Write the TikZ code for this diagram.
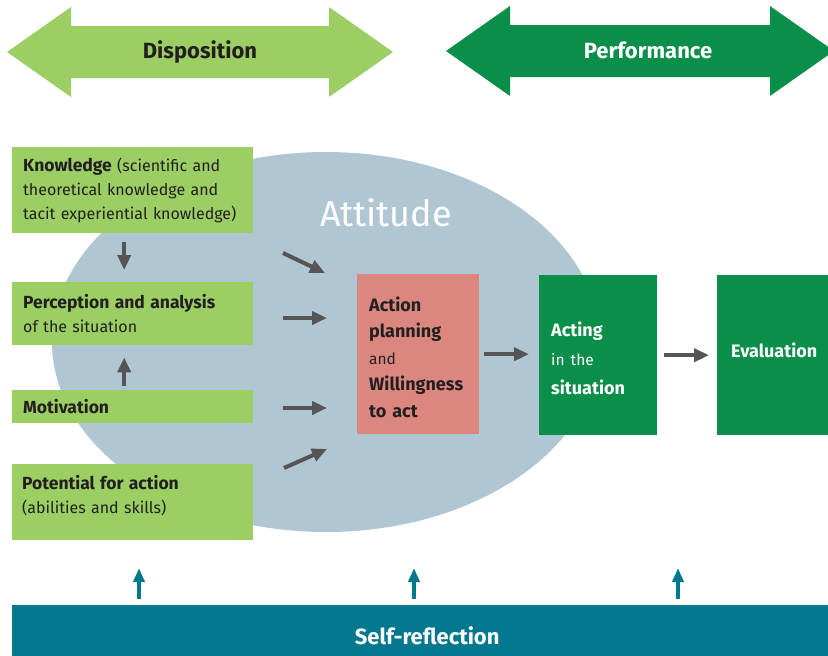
\documentclass[tikz,border=0pt]{standalone}
\usepackage{fontspec}
\setmainfont{Fira Sans}
\usepackage{xcolor}
\usetikzlibrary{arrows.meta}

\definecolor{lightgreen}{RGB}{155,206,99}
\definecolor{darkgreen}{RGB}{10,143,74}
\definecolor{attblue}{RGB}{176,199,211}
\definecolor{salmon}{RGB}{219,135,128}
\definecolor{petrol}{RGB}{1,120,142}
\definecolor{arrowgray}{RGB}{85,85,85}
\definecolor{textdark}{RGB}{35,31,32}

\newcommand{\boldpart}[1]{{\fontsize{17.5}{24}\selectfont\bfseries #1}}
\newcommand{\plainpart}[1]{{\fontsize{15.5}{27}\selectfont\mdseries #1}}

\begin{document}
\begin{tikzpicture}[x=1pt, y=-1pt,
        box/.style = {anchor=north west, inner xsep=12pt, inner ysep=0pt, align=left, text=textdark},
        leftbox/.style = {box, fill=lightgreen, inner xsep=11pt, text width=219pt, font=\fontsize{16}{24}\selectfont},
        actbox/.style = {box, fill=darkgreen, text=white, text width=94pt, minimum height=160pt,
            font=\fontsize{18}{29}\selectfont\bfseries},
        grayarrow/.style = {draw=arrowgray, line width=4pt, -{Triangle[length=15pt, width=13pt]}},
        uparrow/.style = {draw=petrol, line width=3.5pt, -{Triangle[length=14pt, width=11pt]}}
    ]
        \useasboundingbox (0,0) rectangle (828,656);
        % big double arrows
        \fill[lightgreen] (7,52) -- (71,7) -- (71,26) -- (329,26) -- (329,7) -- (393,52)
            -- (329,97) -- (329,78) -- (71,78) -- (71,97) -- cycle;
        \fill[darkgreen] (446,51) -- (510,6) -- (510,25) -- (770,25) -- (770,6) -- (834,51)
            -- (770,96) -- (770,77) -- (510,77) -- (510,96) -- cycle;
        \node[text=textdark, font=\fontsize{22}{26}\selectfont\bfseries] (disp) at (200,52) {Disposition};
        \node[text=white, font=\fontsize{22}{26}\selectfont\bfseries] (perf) at (648,50) {Performance};
        % attitude
        \fill[attblue] (326,342) ellipse [x radius=274pt, y radius=190pt];
        \node[text=white, font=\fontsize{36}{40}\selectfont] (att) at (386,213) {Attitude};
        % left column
        \node[leftbox, minimum height=86pt] (know) at (12,147)
            {\boldpart{Knowledge} (scientific and\\ theoretical knowledge and\\ tacit experiential knowledge)};
        \node[leftbox, minimum height=63pt] (perc) at (12,282)
            {\boldpart{Perception and analysis}\\ of the situation};
        \node[leftbox, minimum height=33pt] (motiv) at (12,390) {\boldpart{Motivation}};
        \node[leftbox, minimum height=76pt, inner xsep=10pt, text width=221pt] (pot) at (12,464)
            {\boldpart{Potential for action}\\ (abilities and skills)\rule[-16pt]{0pt}{16pt}};
        \draw[grayarrow, shorten <=9pt, shorten >=12pt] ([xshift=-8.5pt]know.south) -- ([xshift=-8.5pt]perc.north);
        \draw[grayarrow, shorten <=4pt, shorten >=12pt] ([xshift=-8.5pt]motiv.north) -- ([xshift=-8.5pt]perc.south);
        % action boxes
        \node[box, fill=salmon, text width=98pt, minimum height=160pt, font=\fontsize{18}{26.5}\selectfont\bfseries] (plan) at (357,274)
            {\rule{0pt}{20.5pt}Action\\ planning\\ \plainpart{and}\\ Willingness\\ to act};
        \node[actbox] (act) at (539,275)
            {\rule{0pt}{21pt}Acting\\ \plainpart{in the}\\ situation};
        \node[actbox, inner xsep=14pt, text width=95pt] (eval) at (717,275)
            {Evaluation\rule[-10pt]{0pt}{10pt}};
        % inflow into planning
        \coordinate (k1) at (283,253); \coordinate (k2) at (325,273);
        \coordinate (p1) at (283,318); \coordinate (p2) at (327,318);
        \coordinate (m1) at (283,408); \coordinate (m2) at (327,408);
        \coordinate (a1) at (284,468); \coordinate (a2) at (327,449);
        \draw[grayarrow] (k1) -- (k2);
        \draw[grayarrow] (p1) -- (p2);
        \draw[grayarrow] (m1) -- (m2);
        \draw[grayarrow] (a1) -- (a2);
        \draw[grayarrow, shorten <=5pt, shorten >=10pt] (plan.east) -- (plan.east -| act.west);
        \draw[grayarrow, shorten <=7pt, shorten >=8pt] (act.east) -- (act.east -| eval.west);
        % self-reflection
        \node[anchor=north west, fill=petrol, text=white, inner sep=0pt, minimum width=830pt, minimum height=61pt,
            font=\fontsize{22}{26}\selectfont\bfseries] (refl) at (12,605) {Self-reflection};
        \coordinate (r1) at (139,568);
        \coordinate (r2) at (414,568);
        \coordinate (r3) at (678,568);
        \draw[uparrow] ([yshift=6pt]refl.north -| r1) -- (r1);
        \draw[uparrow] ([yshift=6pt]refl.north -| r2) -- (r2);
        \draw[uparrow] ([yshift=6pt]refl.north -| r3) -- (r3);
    \end{tikzpicture}
\end{document}
